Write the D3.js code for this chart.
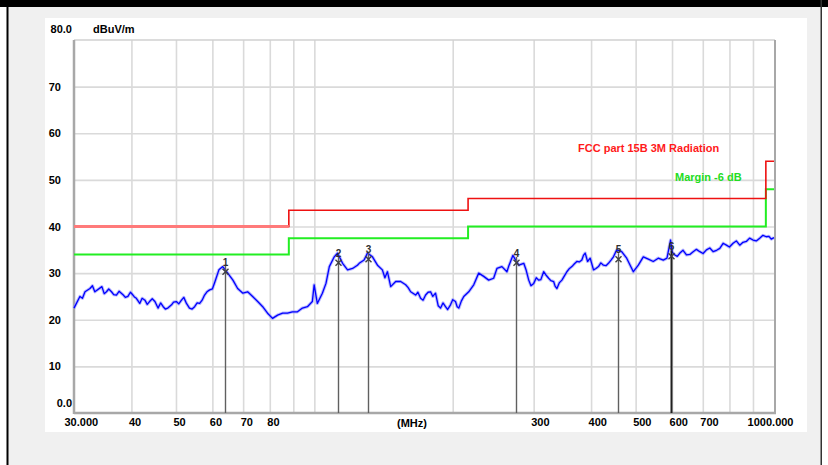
<!DOCTYPE html>
<html>
<head>
<meta charset="utf-8">
<script src="https://cdn.jsdelivr.net/npm/d3@7"></script>
<style>
  html, body { margin: 0; padding: 0; background: #f0f0f0; }
  svg { display: block; }
  text { font-family: "Liberation Sans", Arial, sans-serif; }
</style>
</head>
<body>
<svg id="chart" width="828" height="465"></svg>
<script>
// ---------- data ----------
const traceFreq = [30.0, 30.9, 31.3, 31.7, 32.5, 32.9, 33.3, 34.5, 34.9, 35.3, 35.7, 36.2, 36.6, 37.1, 37.6, 38.4, 38.8, 39.3, 39.8, 40.3,
  40.6, 41.0, 41.7, 42.2, 42.8, 43.3, 43.8, 44.4, 45.0, 45.7, 46.3, 46.9, 47.4, 48.0, 48.9, 49.4, 50.1, 50.7, 51.4, 52.0,
  52.7, 53.5, 54.2, 54.9, 55.6, 56.3, 57.0, 57.7, 58.4, 59.2, 60.0, 60.7, 62.0, 63.2, 64.8, 66.5, 68.1, 69.9, 71.6, 73.4,
  75.3, 77.2, 79.1, 81.1, 83.2, 85.3, 87.4, 89.6, 91.9, 94.2, 96.6, 99.0, 99.9, 101.5, 104.1, 106.0, 107.8, 110.5, 112.3, 115.2,
  118.1, 121.1, 124.1, 125.2, 128.3, 130.5, 133.8, 137.2, 140.6, 142.4, 144.2, 146.6, 150.3, 154.1, 158.0, 160.0, 162.0, 166.1, 168.0, 170.3,
  172.4, 174.6, 176.8, 179.0, 181.0, 183.5, 186.0, 188.2, 190.5, 192.9, 195.0, 197.8, 200.0, 202.8, 204.5, 206.2, 208.8, 211.4, 216.7, 222.2,
  227.8, 233.6, 239.5, 245.5, 249.6, 255.9, 262.4, 264.6, 270.3, 278.4, 285.5, 289.0, 292.7, 296.0, 300.1, 304.0, 307.6, 311.0, 315.4, 319.0,
  323.4, 327.0, 331.6, 334.0, 337.1, 341.0, 345.6, 350.0, 354.3, 359.0, 363.3, 368.0, 372.5, 377.0, 381.9, 385.0, 388.4, 393.0, 398.2, 404.9,
  410.0, 415.1, 420.0, 425.6, 431.0, 436.3, 442.0, 447.4, 454.8, 466.3, 478.1, 494.3, 506.8, 519.6, 532.8, 546.2, 560.0, 574.2, 585.0, 595.6,
  600.5, 608.7, 616.0, 624.1, 634.0, 645.1, 656.0, 667.0, 678.0, 689.7, 701.0, 712.9, 725.0, 737.1, 750.0, 762.2, 775.0, 787.8, 800.0, 814.6,
  828.0, 842.4, 856.0, 870.6, 885.0, 900.2, 915.0, 930.9, 946.0, 962.1, 975.0, 986.4, 1000];
const traceLevel = [22.5, 25.0, 24.6, 26.0, 26.7, 27.3, 26.0, 27.1, 25.6, 26.0, 26.6, 26.0, 25.4, 25.3, 26.1, 25.3, 24.8, 25.0, 25.9, 25.3,
  24.9, 24.6, 23.5, 24.6, 24.2, 23.3, 23.9, 24.5, 23.9, 22.5, 23.6, 22.8, 22.3, 22.5, 23.2, 23.8, 23.9, 23.4, 24.2, 24.8,
  23.5, 22.5, 22.3, 22.8, 23.6, 23.5, 24.2, 25.3, 26.0, 26.4, 26.6, 28.0, 30.7, 31.4, 30.0, 28.5, 26.7, 25.7, 26.0, 25.0,
  23.9, 22.8, 21.4, 20.3, 21.0, 21.4, 21.4, 21.7, 21.7, 22.5, 22.8, 23.9, 27.5, 23.5, 25.7, 27.8, 31.4, 33.5, 34.3, 32.1,
  30.7, 31.0, 31.7, 32.1, 32.8, 34.3, 33.5, 31.7, 30.7, 29.0, 30.3, 27.1, 28.2, 28.2, 27.5, 26.9, 26.0, 25.3, 25.9, 24.6,
  24.2, 25.3, 25.9, 26.0, 25.0, 25.7, 23.0, 22.5, 23.6, 22.8, 22.2, 23.2, 24.3, 23.9, 22.8, 22.5, 24.0, 25.0, 26.0, 27.5,
  30.0, 29.3, 28.5, 28.9, 31.0, 31.4, 30.3, 31.4, 33.8, 31.7, 32.1, 30.6, 28.5, 27.3, 27.8, 29.0, 28.5, 28.6, 30.3, 29.6,
  28.9, 28.4, 28.2, 27.2, 26.7, 27.9, 28.5, 29.4, 30.3, 31.0, 31.4, 32.0, 32.5, 32.4, 32.8, 33.8, 34.3, 32.5, 33.2, 30.7,
  31.0, 31.4, 32.2, 31.7, 31.6, 32.1, 32.8, 33.5, 35.0, 34.6, 33.2, 30.3, 31.7, 33.5, 33.0, 32.5, 33.2, 32.8, 33.2, 37.1,
  34.5, 33.9, 33.6, 34.3, 34.9, 33.9, 34.0, 34.6, 35.1, 34.6, 34.2, 35.0, 35.4, 34.6, 34.9, 35.3, 36.4, 36.0, 35.6, 36.4,
  36.9, 36.0, 36.6, 36.8, 37.5, 37.1, 36.9, 37.5, 38.1, 37.8, 37.9, 37.3, 37.6];

const limitFreq   = [30, 88, 216, 960, 1000];
const limitLevel  = [40, 43.5, 46, 54, 54];
const marginLevel = [34, 37.5, 40, 48, 48];

const markerFreq  = [63.8, 112.7, 131.0, 274.7, 458.5, 595.6];
const markerLevel = [30.3, 32.2, 33.0, 32.2, 33.0, 33.6];
const markerLabel = ["1", "2", "3", "4", "5", "6"];

const yTicks = [0, 10, 20, 30, 40, 50, 60, 70, 80];
const yTickLabels = ["0.0", "10", "20", "30", "40", "50", "60", "70", "80.0"];
const xGrid = [40, 50, 60, 70, 80, 90, 100, 200, 300, 400, 500, 600, 700, 800, 900];
const xTicks = [30, 40, 50, 60, 70, 80, 300, 400, 500, 600, 700, 1000];
const xTickLabels = ["30.000", "40", "50", "60", "70", "80", "300", "400", "500", "600", "700", "1000.000"];

const yUnit = "dBuV/m";
const xUnit = "(MHz)";
const limitName = "FCC part 15B 3M Radiation";
const marginName = "Margin -6 dB";

// ---------- layout ----------
const svg = d3.select("#chart");
const L = 74, R = 774, T = 40, B = 413;
const x = d3.scaleLog().domain([30, 1000]).range([L, R]);
const y = d3.scaleLinear().domain([0, 80]).range([B, T]);

// window frame
svg.append("rect").attr("x", 0).attr("y", 0).attr("width", 828).attr("height", 465).attr("fill", "#f0f0f0");
svg.append("rect").attr("x", 0).attr("y", 0).attr("width", 7).attr("height", 465).attr("fill", "#ffffff");
svg.append("rect").attr("x", 822).attr("y", 0).attr("width", 6).attr("height", 465).attr("fill", "#ffffff");
svg.append("rect").attr("x", 0).attr("y", 0).attr("width", 828).attr("height", 7).attr("fill", "#000");
svg.append("rect").attr("x", 6.5).attr("y", 0).attr("width", 2).attr("height", 465).attr("fill", "#000");
svg.append("rect").attr("x", 820.5).attr("y", 0).attr("width", 1.5).attr("height", 465).attr("fill", "#333");
// white panel
svg.append("rect").attr("x", 45).attr("y", 18).attr("width", 762).attr("height", 414).attr("fill", "#fff");

// gridlines via axes
const gx = svg.append("g").attr("transform", `translate(0,${B})`)
  .call(d3.axisBottom(x).tickValues(xGrid).tickSize(-(B - T)).tickFormat(""));
gx.select(".domain").remove();
gx.selectAll("line").attr("stroke", "#dadada").attr("stroke-width", 1.6);

const gy = svg.append("g").attr("transform", `translate(${L},0)`)
  .call(d3.axisLeft(y).tickValues(yTicks.slice(1, -1)).tickSize(-(R - L)).tickFormat(""));
gy.select(".domain").remove();
gy.selectAll("line").attr("stroke", "#dadada").attr("stroke-width", 1.6);

// plot frame
svg.append("line").attr("x1", L).attr("x2", R + 1).attr("y1", T).attr("y2", T).attr("stroke", "#d0d0d0").attr("stroke-width", 1.5);
svg.append("line").attr("x1", R + 1).attr("x2", R + 1).attr("y1", T).attr("y2", B).attr("stroke", "#a8a8a8").attr("stroke-width", 2);
svg.append("line").attr("x1", L).attr("x2", L).attr("y1", T).attr("y2", B + 1).attr("stroke", "#a8a8a8").attr("stroke-width", 2.5);
svg.append("line").attr("x1", L).attr("x2", R + 2).attr("y1", B).attr("y2", B).attr("stroke", "#a8a8a8").attr("stroke-width", 2.5);

// y labels
const yl = svg.append("g").attr("transform", `translate(${L},0)`)
  .call(d3.axisLeft(y).tickValues(yTicks).tickSize(0).tickPadding(13)
    .tickFormat((d, i) => yTickLabels[i]));
yl.select(".domain").remove();
yl.selectAll("text")
  .attr("font-family", "'Liberation Sans', Arial, sans-serif")
  .attr("font-size", 11).attr("font-weight", "bold").attr("fill", "#000")
  .attr("dx", d => (d === 0 || d === 80) ? 11 : 0)
  .attr("dy", d => d === 0 ? "-0.55em" : (d === 80 ? "-0.72em" : "0.32em"));
svg.append("text").attr("x", 93).attr("y", 33).attr("font-size", 11).attr("font-weight", "bold").text(yUnit);

// x labels
const xl = svg.append("g").attr("transform", `translate(0,${B})`)
  .call(d3.axisBottom(x).tickValues(xTicks).tickSize(0).tickPadding(5)
    .tickFormat((d, i) => xTickLabels[i]));
xl.select(".domain").remove();
xl.selectAll("text")
  .attr("font-family", "'Liberation Sans', Arial, sans-serif")
  .attr("font-size", 11).attr("font-weight", "bold").attr("fill", "#000")
  .attr("text-anchor", d => d === 1000 ? "end" : "start")
  .attr("dx", d => d === 30 ? -10 : (d === 1000 ? 19 : -3));
svg.append("text").attr("x", 412).attr("y", B + 14).attr("text-anchor", "middle")
  .attr("font-size", 11).attr("font-weight", "bold").text(xUnit);

// limit lines
const limPts = limitFreq.map((f, i) => [f, limitLevel[i]]);
const marPts = limitFreq.map((f, i) => [f, marginLevel[i]]);
const step = d3.line().x(d => x(d[0])).y(d => y(d[1])).curve(d3.curveStepAfter);
svg.append("path").attr("d", step(marPts)).attr("fill", "none").attr("stroke", "#22ee22").attr("stroke-width", 2);
svg.append("path").attr("d", step(limPts)).attr("fill", "none").attr("stroke", "#ee1111").attr("stroke-width", 1.6);
svg.append("path").attr("d", step(limPts.slice(0, 2).map((p, i) => i === 1 ? [p[0], limPts[0][1]] : p)))
  .attr("fill", "none").attr("stroke", "#ff7a7a").attr("stroke-width", 3);

svg.append("text").attr("x", 578).attr("y", 152).attr("font-size", 11).attr("font-weight", "bold")
  .attr("fill", "#ff1a1a").text(limitName);
svg.append("text").attr("x", 675).attr("y", 181).attr("font-size", 11).attr("font-weight", "bold")
  .attr("fill", "#22dd22").text(marginName);

// trace
const tr = traceFreq.map((f, i) => [f, traceLevel[i]]);
const line = d3.line().x(d => x(d[0])).y(d => y(d[1]));
svg.append("path").attr("d", line(tr)).attr("fill", "none").attr("stroke", "#8c8cff")
  .attr("stroke-width", 3.2).attr("stroke-opacity", 0.6).attr("stroke-linejoin", "round");
svg.append("path").attr("d", line(tr)).attr("fill", "none").attr("stroke", "#0000ff")
  .attr("stroke-width", 1.3).attr("stroke-linejoin", "round");

// markers
markerFreq.forEach((f, i) => {
  const mx = Math.round(x(f)) + 0.5, my = y(markerLevel[i]);
  svg.append("line").attr("x1", mx).attr("x2", mx).attr("y1", my - 6).attr("y2", B)
    .attr("stroke", i === 5 ? "#202020" : "#606060").attr("stroke-width", i === 5 ? 2 : 1.4);
  svg.append("path").attr("d", `M${mx - 3},${my - 3}L${mx + 3},${my + 3}M${mx + 3},${my - 3}L${mx - 3},${my + 3}`)
    .attr("stroke", "#404040").attr("stroke-width", 1.4);
  svg.append("text").attr("x", mx).attr("y", my - 6).attr("text-anchor", "middle")
    .attr("font-size", 10).attr("font-weight", "bold").attr("fill", "#303030").text(markerLabel[i]);
});
</script>
</body>
</html>
